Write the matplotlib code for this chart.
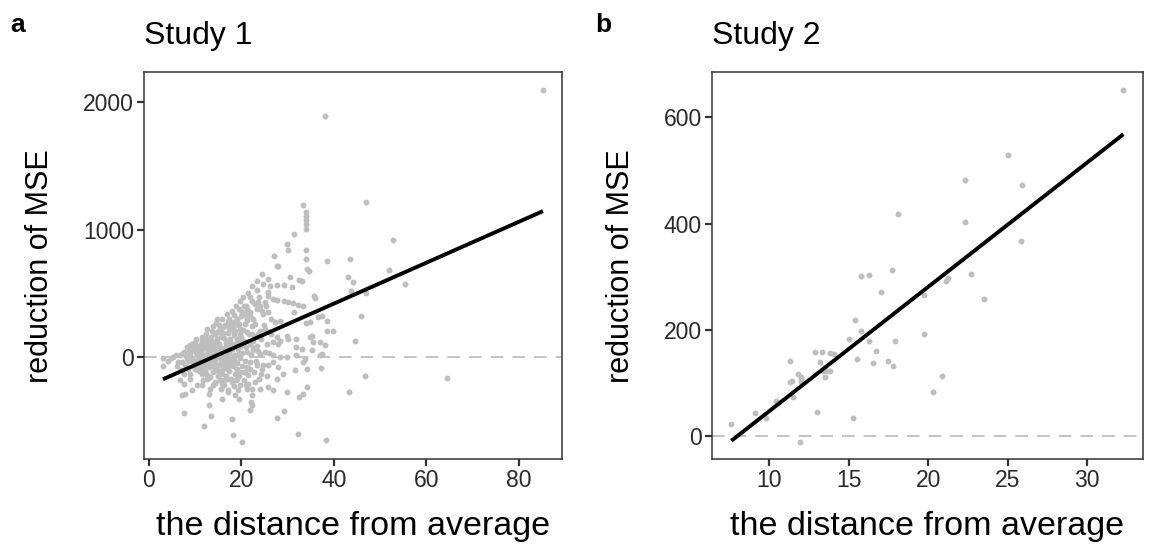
import numpy as np
import matplotlib
matplotlib.use('Agg')
import matplotlib.pyplot as plt

plt.rcParams['font.family'] = ['Liberation Sans', 'DejaVu Sans']

# Study 1: distance from average (x) vs reduction of MSE (y)
study1_x = [
    85.2, 38.0, 46.9, 33.3, 33.9, 33.9, 33.9, 34.0, 33.9, 31.4, 29.8, 30.1, 27.1, 27.9, 33.9, 33.9,
    34.2, 34.6, 38.5, 43.4, 52.8, 52.0, 55.4, 47.0, 45.9, 46.8, 64.4, 25.8, 30.6, 32.5, 33.0,
    27.8, 24.7, 27.8, 29.2, 43.1, 44.1,
    23.3, 25.7, 25.7, 26.9, 27.6, 21.9, 22.4, 23.7, 24.0, 25.3, 29.2, 30.1, 31.2, 32.3, 33.4, 35.7,
    36.0, 31.0, 43.8,
    20.6, 21.3, 20.1, 20.8, 21.2, 21.9, 22.6, 19.0, 18.3, 17.2, 19.4, 23.3, 24.4, 24.7, 25.8, 26.5,
    27.3, 28.3, 31.4, 33.9, 34.9, 36.6, 37.5, 38.6, 14.8, 17.4,
    13.6, 15.4, 16.1, 17.6, 18.6, 19.7, 21.2, 22.2, 23.3, 24.0, 25.1, 26.5, 27.6, 28.3, 29.8, 30.1,
    31.9, 31.9, 33.0, 34.8, 35.5, 37.0, 38.6, 39.7, 35.2, 44.5, 38.0, 12.5, 11.5, 10.0, 8.9, 10.7,
    14.0, 14.7, 16.8, 18.3, 19.7, 21.9, 23.3, 25.5, 26.9, 28.0,
    3.05, 4.8, 6.8, 7.5, 8.6, 9.7, 11.5, 12.5, 13.3, 15.1, 16.1, 17.2, 18.3, 19.7, 21.2, 22.6,
    24.0, 25.1, 26.9, 28.3, 29.8, 31.9, 33.7, 35.3, 37.1, 37.5,
    3.05, 7.2, 8.2, 9.3, 10.7, 11.8, 12.9, 13.6, 14.7, 15.4, 16.8, 17.6, 19.0, 19.7, 20.8, 21.9,
    23.3, 24.4, 25.8, 26.9, 28.0, 29.1, 31.6, 33.4, 34.1, 37.3, 8.9, 10.0, 12.5,
    6.8, 7.5, 8.9, 10.4, 11.5, 12.5, 13.3, 14.3, 15.8, 16.8, 17.9, 19.0, 19.7, 21.2, 21.5, 22.9,
    24.0, 25.8, 26.9, 27.6, 29.8, 32.5, 33.4, 34.2, 43.3, 7.2, 7.9, 9.3, 12.9, 15.8, 17.2, 18.6,
    19.4, 22.2,
    7.5, 12.0, 13.5, 13.0, 17.9, 18.1, 20.1, 22.1, 22.4, 21.9, 27.6, 29.2, 32.3, 38.2,
    9.0, 9.2, 9.5, 9.8, 9.4,
    10.2, 10.3, 10.5, 10.1, 10.6, 10.8, 10.4,
    11.0, 11.2, 11.3, 11.4, 11.1, 11.6, 11.7, 11.8, 11.9, 11.5,
    12.1, 12.2, 12.3, 12.4, 12.6, 12.7, 12.8, 12.9, 12.2, 12.5,
    13.0, 13.1, 13.2, 13.4, 13.5, 13.6, 13.7, 13.8, 13.9, 13.3,
    14.0, 14.1, 14.2, 14.3, 14.4, 14.5, 14.6, 14.7, 14.8, 14.9, 14.2,
    15.0, 15.1, 15.2, 15.3, 15.5, 15.6, 15.7, 15.8, 15.9, 15.4, 15.6,
    16.0, 16.1, 16.2, 16.3, 16.4, 16.5, 16.6, 16.7, 16.8, 16.9, 16.3,
    17.0, 17.1, 17.2, 17.3, 17.4, 17.5, 17.6, 17.7, 17.8, 17.9, 17.2,
    18.0, 18.1, 18.2, 18.3, 18.4, 18.5, 18.6, 18.7, 18.8, 18.9, 18.3,
    19.0, 19.1, 19.2, 19.3, 19.4, 19.5, 19.6, 19.7, 19.8, 19.9, 19.3,
    20.0, 20.1, 20.2, 20.3, 20.4, 20.5, 20.6, 20.7, 20.8, 20.9,
    21.0, 21.2, 21.4, 21.5, 21.6, 21.8, 21.9, 21.1,
    22.0, 22.2, 22.4, 22.6, 22.8, 22.9, 22.3,
    23.0, 23.2, 23.4, 23.6, 23.8, 23.9, 23.5,
    24.2, 24.5, 24.7, 24.8, 24.3,
    25.2, 25.5, 25.9, 26.2, 26.0,
    7.0, 7.3, 7.8, 8.0, 8.3, 8.5, 8.7, 7.6, 6.3, 5.8, 6.0, 5.2, 4.2,
    10.5, 11.0, 11.5, 12.0, 12.5, 13.0, 13.5, 14.0, 14.5, 15.0, 15.5, 16.0, 16.5, 17.0, 17.5, 18.0,
    18.5, 19.0, 19.5, 20.0, 12.8, 14.3, 15.8, 17.3, 18.8, 10.8, 13.3, 16.7, 19.2, 21.3, 11.8, 14.8,
    22.5, 20.5, 9.6, 8.8, 13.9, 16.2, 18.1, 15.2,
]
study1_y = [
    2098, 1893, 1215, 1197, 1135, 1110, 1072, 1046, 1005, 963, 886, 840, 793, 712, 842, 771,
    694, 675, 756, 771, 916, 680, 573, 501, 324, -146, -161, 615, 625, 605, 600,
    715, 572, 564, 564, 632, 590,
    528, 507, 481, 455, 450, 468, 442, 429, 403, 403, 442, 429, 421, 411, 403, 481,
    460, 546, 520,
    403, 377, 351, 338, 312, 325, 299, 299, 273, 286, 260, 377, 364, 338, 351, 299,
    273, 286, 351, 268, 273, 312, 325, 286, 299, 299,
    208, 221, 234, 221, 208, 221, 195, 182, 169, 208, 221, 182, 156, 130, 169, 143,
    143, 78, 65, 156, 117, 117, 208, 208, 164, 130, 91, 143, 130, 117, 91, 78,
    117, 143, 130, 104, 117, 104, 86, 104, 117, 104,
    -5, -5, 13, 39, 52, 52, 65, 26, 39, 52, 39, 13, 13, 26, 39, 52,
    26, 39, 13, 0, 0, 13, -13, 52, 13, 26,
    -70, -39, -13, -26, -52, -65, -78, -39, -91, -52, -91, -65, -91, -117, -117, -91,
    -65, -91, -65, -39, -78, -130, -104, -39, -91, -86, -130, -91, -143,
    -182, -208, -169, -221, -221, -169, -247, -195, -208, -169, -195, -169, -221, -247, -208, -195,
    -247, -234, -260, -169, -273, -312, -286, -234, -273, -299, -286, -260, -286, -325, -273, -299,
    -325, -299,
    -442, -538, -460, -377, -489, -611, -663, -351, -377, -416, -476, -421, -603, -650,
    20, -10, 70, -40, 100,
    30, -20, 90, 140, -70, 10, 50,
    -10, 40, 100, 160, -90, 0, -40, 120, 70, -130,
    20, -20, 90, 180, 60, -50, 130, 0, -110, 220,
    40, -30, 100, 160, -70, 10, 70, 240, -120, -160,
    20, -40, 90, 180, -100, 50, 270, 0, 120, -150, -200,
    30, -60, 100, 200, -20, 160, 70, -130, 300, -180, -250,
    10, -90, 150, 60, 250, -30, 110, -150, 340, 20, -220,
    80, -40, 190, -110, 40, 270, 140, -10, -170, 360, -260,
    60, -70, 230, 170, -20, 330, 100, -130, 400, 20, -230,
    140, -50, 250, 60, 380, -150, 180, -10, 440, 90, -260,
    320, 30, -70, 210, 470, 130, -180, 260, -30, 400,
    80, 290, -140, 500, 180, -40, 350, -220,
    20, 240, 560, 130, -120, 420, -250,
    260, -30, 600, 180, -170, 470, 50,
    140, 650, -60, 250, -130,
    430, -150, 200, 560, 30,
    -100, 30, -60, 10, 80, -90, -30, -130, -40, 20, -70, 0, -30,
    -30, 60, 20, -70, 100, -10, 130, 60, -60, -110, 60, 190, -60, 0, 110, -40,
    200, -100, 30, 160, -160, -20, 30, 230, -180, -110, 50, 80, 100, -80, -180, 200,
    70, -120, -70, 40, -220, -180, 270, 250,
]

# Study 2
study2_x = [
    7.6, 11.9, 9.1, 9.8, 10.4, 13.0, 15.25, 11.3, 11.27, 11.4, 11.8, 12.0, 12.0, 12.0, 11.5,
    12.9, 13.3, 13.2, 13.4, 13.5, 13.8, 14.1, 13.6, 13.8, 15.0, 15.4, 15.5, 15.8, 15.75, 16.3,
    16.3, 16.7, 16.5, 17.0, 17.5, 17.8, 17.7, 17.9, 18.1, 19.75, 19.75, 20.3, 20.9, 21.1, 21.25,
    22.7, 22.35, 22.35, 23.5, 25.0, 25.9, 25.85, 32.3,
]
study2_y = [
    24, -10, 43, 35, 67, 45, 35, 142, 102, 104, 117, 112, 108, 102, 74,
    159, 158, 140, 122, 111, 157, 155, 123, 123, 183, 218, 145, 198, 301, 304,
    180, 161, 138, 271, 141, 133, 313, 179, 419, 265, 192, 84, 113, 292, 297,
    305, 403, 482, 258, 529, 473, 367, 652,
]

# fitted lines (slope, intercept)
fit1 = (16.06, -223.0)
fit2 = (23.35, -186.0)

xticks1 = [0, 20, 40, 60, 80]
yticks1 = [0, 1000, 2000]
xticks2 = [10, 15, 20, 25, 30]
yticks2 = [0, 200, 400, 600]

fig = plt.figure(figsize=(11.49, 5.46), dpi=100)
ax1 = fig.add_axes([0.1253, 0.159, 0.3638, 0.709])
ax2 = fig.add_axes([0.6194, 0.159, 0.3754, 0.709])


def draw_panel(ax, xs, ys, fit, xticks, yticks, title):
    '''scatter with lm line, ggplot-ish look'''
    xs, ys = np.array(xs), np.array(ys)
    ax.axhline(0, color='#BEBEBE', lw=1.3, dashes=(7, 5), zorder=1)
    ax.scatter(xs, ys, s=18, color='#BEBEBE', linewidths=0, zorder=2)
    xl = np.array([xs.min(), xs.max()])
    ax.plot(xl, fit[0]*xl + fit[1], color='black', lw=2.8, zorder=3, solid_capstyle='butt')
    xr = xs.max() - xs.min()
    yr = ys.max() - ys.min()
    ax.set_xlim(xs.min() - 0.05*xr, xs.max() + 0.05*xr)
    ax.set_ylim(ys.min() - 0.05*yr, ys.max() + 0.05*yr)
    ax.set_xticks(xticks)
    ax.set_yticks(yticks)
    ax.tick_params(length=5, width=1.6, color='#333333', labelsize=16.5, pad=2, labelcolor='#2b2b2b')
    for s in ax.spines.values():
        s.set_color('#333333')
        s.set_linewidth(1.1)
    ax.set_xlabel('the distance from average', fontsize=24.5, labelpad=14)
    ax.set_ylabel('reduction of MSE', fontsize=22, labelpad=20)
    ax.set_title(title, fontsize=23, loc='left', pad=20)


draw_panel(ax1, study1_x, study1_y, fit1, xticks1, yticks1, 'Study 1')
draw_panel(ax2, study2_x, study2_y, fit2, xticks2, yticks2, 'Study 2')

fig.text(10/1149, 1 - 25/546, 'a', fontsize=19, fontweight='bold', va='center')
fig.text(595/1149, 1 - 25/546, 'b', fontsize=19, fontweight='bold', va='center')

fig.savefig('out.png', dpi=100)
